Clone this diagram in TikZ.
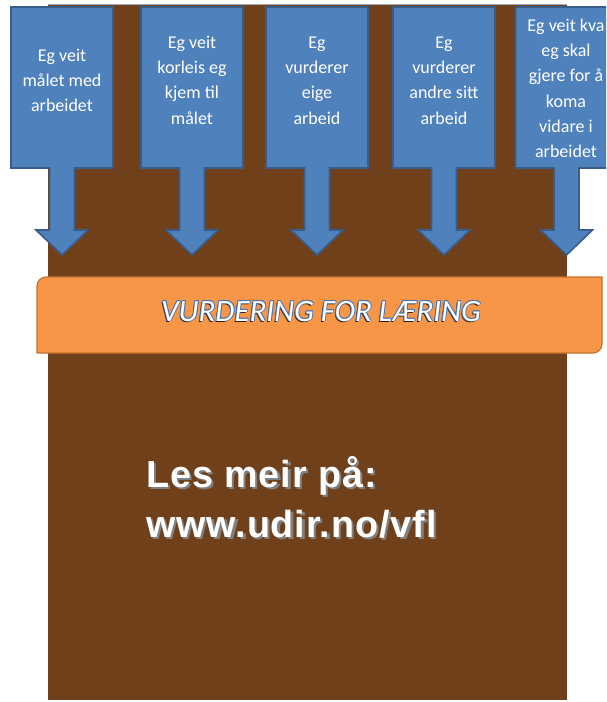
\documentclass[tikz,border=0pt]{standalone}
\usepackage{fontspec}
\newfontfamily\boxfont{Carlito}
\newfontfamily\bigfont[LetterSpace=2.5]{Liberation Sans}
\definecolor{bgbrown}{RGB}{112,64,27}
\definecolor{calfill}{RGB}{79,129,189}
\definecolor{caldraw}{RGB}{56,93,138}
\definecolor{banfill}{RGB}{247,150,70}
\definecolor{bandraw}{RGB}{196,115,48}
\definecolor{topline}{RGB}{160,172,190}
\definecolor{outlineblue}{RGB}{72,115,175}
\definecolor{txtshadow}{RGB}{35,30,30}
\definecolor{bigshadow}{RGB}{128,128,128}
\tikzset{
  callout/.style={fill=calfill, draw=caldraw, line width=1.6pt, line join=miter},
  boxtext/.style={text=white, inner sep=0pt, align=center, anchor=north,
    font={\boxfont\fontsize{18}{25.3}\selectfont}},
  banner/.style={fill=banfill, draw=bandraw, line width=1.2pt},
  bantext/.style={inner sep=0pt, anchor=base,
    font={\boxfont\itshape\fontsize{31}{36}\selectfont}},
  bigtext/.style={inner sep=0pt, anchor=north west, align=left,
    font={\bigfont\bfseries\fontsize{37.7}{50}\selectfont}}
}
\newcommand{\calloutshape}[1]{%
  \draw[callout] (#1-51,7) -- (#1+51,7) -- (#1+51,168) -- (#1+12.5,168)
    -- (#1+12.5,230) -- (#1+26,230) -- (#1,255) -- (#1-26,230)
    -- (#1-12.5,230) -- (#1-12.5,168) -- (#1-51,168) -- cycle;}
\begin{document}
\begin{tikzpicture}[x=1pt,y=-1pt]
\useasboundingbox (0,0) rectangle (606,702);
\begin{scope}
\clip (0,0) rectangle (606,702);
% background panel
\fill[bgbrown] (48,5) rectangle (567,700);
\draw[topline, line width=1pt] (48,4.5) -- (567,4.5);
% callouts
\calloutshape{62}
\calloutshape{192}
\calloutshape{317}
\calloutshape{444}
\calloutshape{566.5}
\node[boxtext] (t1) at (62,47) {\rule{0pt}{14pt}Eg veit\\målet med\\arbeidet};
\node[boxtext] (t2) at (192,34) {\rule{0pt}{14pt}Eg veit\\korleis eg\\kjem til\\målet};
\node[boxtext] (t3) at (317,34) {\rule{0pt}{14pt}Eg\\vurderer\\eige\\arbeid};
\node[boxtext] (t4) at (444,34) {\rule{0pt}{14pt}Eg\\vurderer\\andre sitt\\arbeid};
\node[boxtext] (t5) at (566,17) {\rule{0pt}{14pt}Eg veit kva\\eg skal\\gjere for å\\koma\\vidare i\\arbeidet};
% banner
\draw[banner] (37,353) -- (37,300) [rounded corners=9pt] -- (37,277) -- (300,277)
  [sharp corners] -- (602,277) -- (602,300) [rounded corners=9pt] -- (602,353)
  -- (300,353) [sharp corners] -- cycle;
\node[bantext, text=txtshadow] (bshadow) at (319.8,322.2) {VURDERING FOR LÆRING};
\foreach \dx/\dy [count=\k] in {0.8/0,-0.8/0,0/0.8,0/-0.8,0.6/0.6,-0.6/0.6,0.6/-0.6,-0.6/-0.6}{
  \node[bantext, text=outlineblue] (bout\k) at (321+\dx,321+\dy) {VURDERING FOR LÆRING};
}
\node[bantext, text=white] (btext) at (321,321) {VURDERING FOR LÆRING};
% link text
\node[bigtext, text=bigshadow] (lshadow) at (148.5,453.5) {\rule{0pt}{36pt}Les meir på:\\www.udir.no/vfl};
\node[bigtext, text=white] (ltext) at (146,451) {\rule{0pt}{36pt}Les meir på:\\www.udir.no/vfl};
\end{scope}
\end{tikzpicture}
\end{document}
